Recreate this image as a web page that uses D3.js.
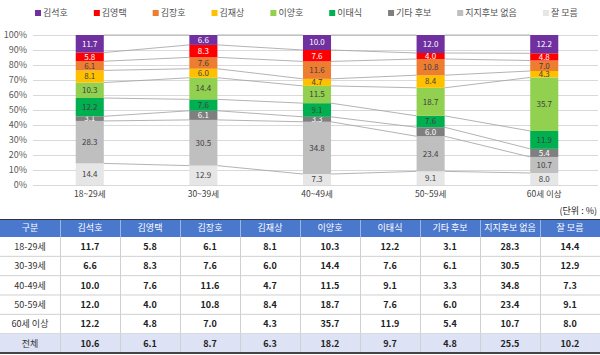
<!DOCTYPE html>
<html><head><meta charset="utf-8">
<script src="https://cdn.jsdelivr.net/npm/d3@7"></script>
<style>
html,body{margin:0;padding:0;background:#fff;}
svg{display:block;font-family:"Noto Sans CJK KR","Noto Sans",sans-serif;}
</style></head>
<body><svg id="c" width="600" height="355"></svg>
<script>
// ---------- data ----------
const ageGroups = ["18~29세","30~39세","40~49세","50~59세","60세 이상"];
const tableRowLabels = ["18-29세","30-39세","40-49세","50-59세","60세 이상","전체"];
const candidates = ["김석호","김영택","김장호","김재상","이양호","이태식","기타 후보","지지후보 없음","잘 모름"];
const kimSeokho   = [11.7, 6.6, 10.0, 12.0, 12.2];
const kimYoungtaek= [5.8, 8.3, 7.6, 4.0, 4.8];
const kimJangho   = [6.1, 7.6, 11.6, 10.8, 7.0];
const kimJaesang  = [8.1, 6.0, 4.7, 8.4, 4.3];
const leeYangho   = [10.3, 14.4, 11.5, 18.7, 35.7];
const leeTaesik   = [12.2, 7.6, 9.1, 7.6, 11.9];
const otherCand   = [3.1, 6.1, 3.3, 6.0, 5.4];
const noSupport   = [28.3, 30.5, 34.8, 23.4, 10.7];
const dontKnow    = [14.4, 12.9, 7.3, 9.1, 8.0];
const totalRow    = [10.6, 6.1, 8.7, 6.3, 18.2, 9.7, 4.8, 25.5, 10.2];
const yTicks = [0,10,20,30,40,50,60,70,80,90,100];

// ---------- styles ----------
const seriesValues = [kimSeokho,kimYoungtaek,kimJangho,kimJaesang,leeYangho,leeTaesik,otherCand,noSupport,dontKnow];
const colors = ["#7030A0","#FF0000","#ED7D31","#FFC000","#92D050","#00B050","#7F7F7F","#BFBFBF","#E7E6E6"];
const labelColors = ["#fff","#fff","#404040","#404040","#404040","#404040","#fff","#404040","#404040"];

const svg = d3.select("#c");

// build stack table (bottom -> top = 잘 모름 ... 김석호)
const rows = ageGroups.map((g,i)=>{ const o={group:g}; candidates.forEach((c,k)=>o[c]=seriesValues[k][i]); return o; });
const stackKeys = candidates.slice().reverse();
const stack = d3.stack().keys(stackKeys).offset(d3.stackOffsetExpand)(rows);

const x = d3.scaleBand().domain(ageGroups).range([33,601]).paddingInner(0.753).paddingOuter(0.376);
const y = d3.scaleLinear().domain([0,1]).range([185,35]);

// gridlines
svg.append("g").selectAll("line").data(yTicks).join("line")
  .attr("x1",33).attr("x2",598)
  .attr("y1",d=>y(d/100)+0.5).attr("y2",d=>y(d/100)+0.5)
  .attr("stroke","#d9d9d9").attr("stroke-width",1);

// y axis labels
const yAxis = d3.axisLeft(y).tickValues(yTicks.map(d=>d/100)).tickFormat(d=>Math.round(d*100)+"%").tickSize(0).tickPadding(0);
const ya = svg.append("g").attr("transform","translate(27,0)").call(yAxis);
ya.select(".domain").remove();
ya.selectAll("text").attr("fill","#595959").style("font-size","9px").style("font-family","'Noto Sans CJK KR',sans-serif");

// series lines
const bw = x.bandwidth();
const lineG = svg.append("g");
stack.forEach(layer=>{
  for(let i=0;i<ageGroups.length-1;i++){
    lineG.append("line")
      .attr("x1",x(ageGroups[i])+bw).attr("y1",y(layer[i][1]))
      .attr("x2",x(ageGroups[i+1])).attr("y2",y(layer[i+1][1]))
      .attr("stroke","#a0a0a0").attr("stroke-width",0.8);
  }
});

// bars
const barG = svg.append("g");
stack.forEach(layer=>{
  const k = candidates.indexOf(layer.key);
  barG.append("g").selectAll("rect").data(layer).join("rect")
    .attr("x",d=>x(d.data.group)).attr("width",bw)
    .attr("y",d=>y(d[1])).attr("height",d=>y(d[0])-y(d[1]))
    .attr("fill",colors[k]);
  barG.append("g").selectAll("text").data(layer).join("text")
    .attr("x",d=>x(d.data.group)+bw/2)
    .attr("y",d=>(y(d[0])+y(d[1]))/2)
    .attr("dy","0.35em").attr("text-anchor","middle")
    .attr("fill",labelColors[k]).style("font-size","8px")
    .text(d=>d.data[layer.key].toFixed(1));
});

// x axis labels
const xAxis = d3.axisBottom(x).tickSize(0).tickPadding(0);
const xa = svg.append("g").attr("transform","translate(0,193)").call(xAxis);
xa.select(".domain").remove();
xa.selectAll("text").attr("fill","#404040").style("font-size","8.5px").style("font-family","'Noto Sans CJK KR',sans-serif").attr("dy","0.5em");

// legend
const leg = svg.append("g");
let lx = 35;
candidates.forEach((c,k)=>{
  leg.append("rect").attr("x",lx).attr("y",10).attr("width",6).attr("height",6).attr("fill",colors[k]);
  const t = leg.append("text").attr("x",lx+8).attr("y",13).attr("dy","0.36em")
    .attr("fill","#505050").style("font-size","9px").text(c);
  lx += 8 + t.node().getComputedTextLength() + 26;
});

// unit
svg.append("text").attr("x",597).attr("y",211).attr("dy","0.36em").attr("text-anchor","end")
  .attr("fill","#222").style("font-size","9px").text("(단위 : %)");

// ---------- table ----------
const headers = ["구분"].concat(candidates);
const colX = d3.scaleBand().domain(d3.range(10)).range([0,600]);
const tTop = 219, hH = 18, rH = 19.33;
const tbl = svg.append("g");
tbl.append("rect").attr("x",0).attr("y",tTop).attr("width",600).attr("height",hH).attr("fill","#4A78CC");
headers.forEach((h,j)=>{
  if(j>0) tbl.append("line").attr("x1",colX(j)+0.5).attr("x2",colX(j)+0.5).attr("y1",tTop).attr("y2",tTop+hH).attr("stroke","#9db6e6").attr("stroke-width",1);
  tbl.append("text").attr("x",colX(j)+colX.bandwidth()/2).attr("y",tTop+hH/2).attr("dy","0.36em")
    .attr("text-anchor","middle").attr("fill","#fff").style("font-size","9px").text(h);
});
const tableData = ageGroups.map((g,i)=>seriesValues.map(s=>s[i])).concat([totalRow]);
tableData.forEach((r,i)=>{
  const ry = tTop+hH+i*rH;
  if(i===tableData.length-1) tbl.append("rect").attr("x",0).attr("y",ry).attr("width",600).attr("height",rH).attr("fill","#DDE2F4");
  tbl.append("line").attr("x1",0).attr("x2",600).attr("y1",ry+rH).attr("y2",ry+rH).attr("stroke","#d0d0d0");
  for(let j=1;j<10;j++) tbl.append("line").attr("x1",colX(j)+0.5).attr("x2",colX(j)+0.5).attr("y1",ry).attr("y2",ry+rH).attr("stroke","#d0d0d0");
  tbl.append("text").attr("x",colX(0)+colX.bandwidth()/2).attr("y",ry+rH/2).attr("dy","0.36em")
    .attr("text-anchor","middle").attr("fill","#333").style("font-size","9px").text(tableRowLabels[i]);
  r.forEach((v,j)=>{
    tbl.append("text").attr("x",colX(j+1)+colX.bandwidth()/2).attr("y",ry+rH/2).attr("dy","0.36em")
      .attr("text-anchor","middle").attr("fill","#222").style("font-size","9px").style("font-weight","bold").text(v.toFixed(1));
  });
});
tbl.append("line").attr("x1",0).attr("x2",600).attr("y1",tTop+0.5).attr("y2",tTop+0.5).attr("stroke","#333").attr("stroke-width",1.2);
const tBot = tTop+hH+tableData.length*rH;
tbl.append("line").attr("x1",0).attr("x2",600).attr("y1",tBot).attr("y2",tBot).attr("stroke","#444").attr("stroke-width",2);
</script></body></html>
